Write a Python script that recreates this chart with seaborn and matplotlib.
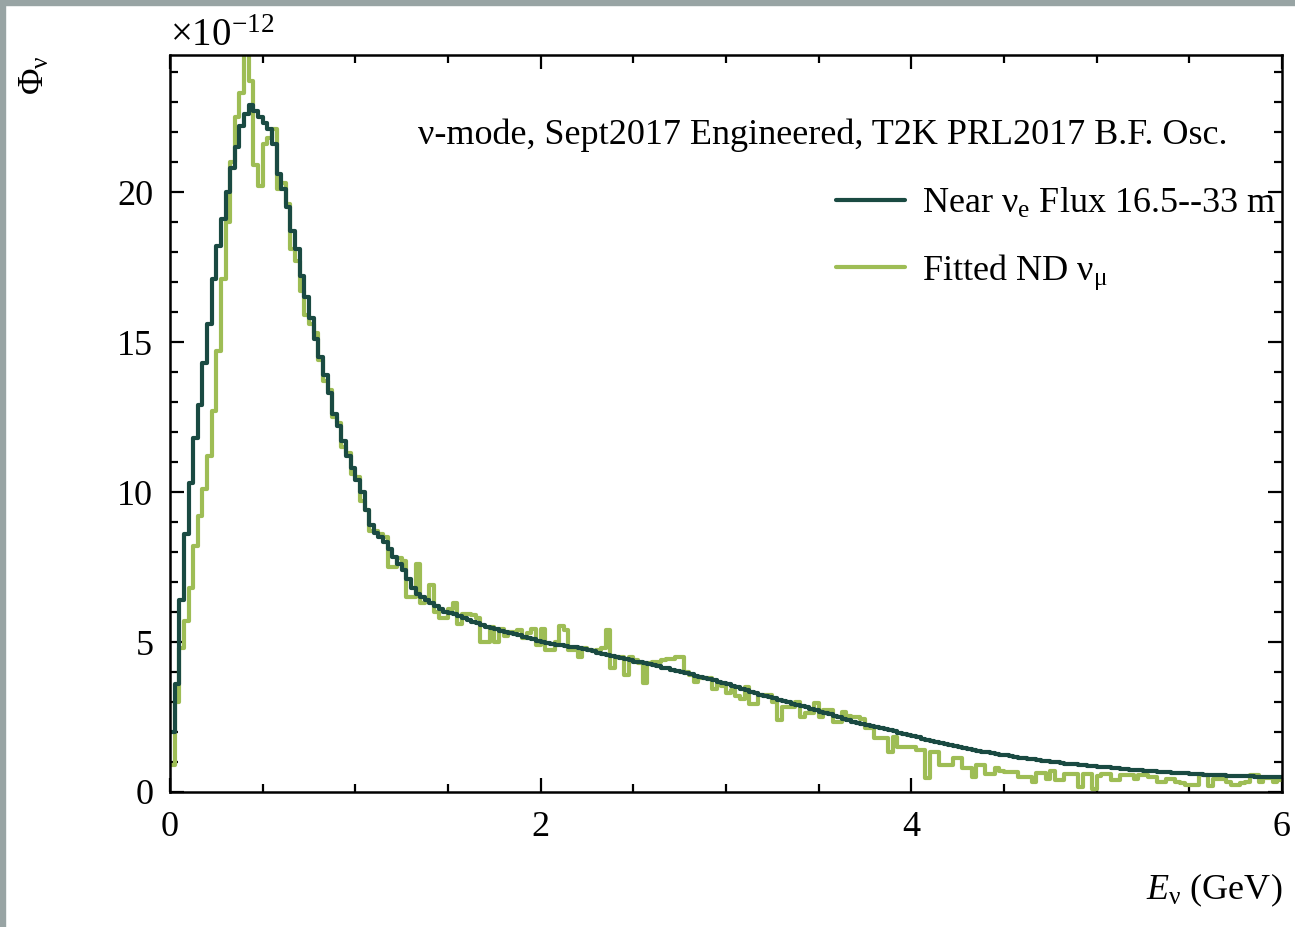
import numpy as np
import pandas as pd
import matplotlib
matplotlib.use("Agg")
import matplotlib.pyplot as plt
from matplotlib.patches import Rectangle
import seaborn as sns

# ---------------- data ----------------
e_min, e_max = 0.0, 6.0

near_nue = [
    2.0, 3.6, 6.4, 8.6, 10.3, 11.8, 12.9, 14.3, 15.6, 17.1,
    18.2, 19.1, 20.0, 20.8, 21.5, 22.2, 22.6, 22.9, 22.7, 22.5,
    22.3, 22.1, 21.6, 20.6, 20.1, 19.5, 18.7, 18.1, 17.2, 16.5,
    15.8, 15.1, 14.5, 13.9, 13.3, 12.6, 12.2, 11.7, 11.2, 10.8,
    10.4, 10.0, 9.4, 8.9, 8.65, 8.5, 8.35, 8.1, 7.85, 7.6,
    7.4, 7.1, 6.8, 6.6, 6.5, 6.4, 6.3, 6.2, 6.1, 6.0,
    5.97, 5.92, 5.86, 5.80, 5.74, 5.68, 5.62, 5.57, 5.50, 5.46,
    5.42, 5.38, 5.34, 5.30, 5.26, 5.22, 5.18, 5.14, 5.10, 5.05,
    5.01, 4.97, 4.93, 4.91, 4.90, 4.87, 4.85, 4.82, 4.80, 4.76,
    4.73, 4.69, 4.65, 4.61, 4.57, 4.53, 4.50, 4.46, 4.42, 4.39,
    4.35, 4.32, 4.29, 4.26, 4.22, 4.19, 4.15, 4.12, 4.08, 4.04,
    4.00, 3.96, 3.92, 3.88, 3.84, 3.80, 3.76, 3.72, 3.68, 3.64,
    3.59, 3.54, 3.49, 3.44, 3.39, 3.34, 3.29, 3.25, 3.21, 3.17,
    3.13, 3.08, 3.04, 2.99, 2.95, 2.91, 2.86, 2.82, 2.77, 2.73,
    2.68, 2.63, 2.59, 2.54, 2.49, 2.44, 2.39, 2.35, 2.31, 2.27,
    2.23, 2.19, 2.16, 2.13, 2.10, 2.06, 2.02, 1.98, 1.94, 1.90,
    1.86, 1.82, 1.78, 1.74, 1.70, 1.67, 1.63, 1.60, 1.56, 1.53,
    1.50, 1.47, 1.44, 1.41, 1.38, 1.35, 1.32, 1.30, 1.27, 1.25,
    1.22, 1.20, 1.17, 1.15, 1.13, 1.11, 1.09, 1.07, 1.05, 1.03,
    1.01, 0.99, 0.97, 0.95, 0.94, 0.92, 0.91, 0.89, 0.88, 0.86,
    0.85, 0.83, 0.82, 0.80, 0.79, 0.78, 0.76, 0.75, 0.74, 0.73,
    0.71, 0.70, 0.69, 0.68, 0.67, 0.66, 0.65, 0.64, 0.63, 0.62,
    0.61, 0.60, 0.59, 0.58, 0.58, 0.57, 0.56, 0.56, 0.55, 0.54,
    0.54, 0.53, 0.52, 0.52, 0.51, 0.51, 0.50, 0.50, 0.49, 0.49,
]

fitted_numu = [
    0.9, 3.0, 4.8, 5.7, 6.8, 8.2, 9.2, 10.1, 11.2, 12.7,
    14.7, 17.1, 19.0, 21.0, 22.5, 23.3, 24.8, 23.7, 20.9, 20.2,
    21.6, 21.8, 22.1, 20.1, 20.3, 19.6, 18.1, 17.7, 16.7, 15.9,
    15.6, 15.3, 14.4, 13.7, 13.4, 12.5, 12.3, 11.5, 11.3, 10.6,
    10.5, 9.7, 9.4, 8.7, 8.7, 8.6, 8.5, 7.5, 7.5, 7.8,
    7.7, 6.5, 6.5, 7.6, 6.3, 6.4, 6.9, 6.0, 5.8, 5.8,
    6.1, 6.3, 5.6, 5.95, 5.95, 5.9, 5.8, 5.0, 5.0, 5.5,
    5.0, 5.45, 5.2, 5.35, 5.35, 5.4, 5.15, 5.3, 5.45, 4.9,
    5.45, 4.75, 4.75, 5.0, 5.55, 5.4, 4.75, 4.75, 4.5, 4.8,
    4.75, 4.7, 4.75, 4.8, 5.4, 4.15, 4.5, 4.5, 3.9, 4.5,
    4.4, 4.3, 3.65, 4.3, 4.35, 4.35, 4.4, 4.45, 4.45, 4.5,
    4.5, 4.0, 3.9, 3.67, 3.8, 3.8, 3.8, 3.45, 3.6, 3.55,
    3.3, 3.4, 3.2, 3.1, 3.5, 2.95, 2.95, 3.25, 3.25, 3.25,
    3.0, 2.4, 2.83, 2.83, 2.85, 3.0, 2.5, 2.63, 2.63, 2.97,
    2.5, 2.75, 2.75, 2.35, 2.35, 2.67, 2.55, 2.5, 2.5, 2.45,
    2.15, 2.13, 1.8, 1.8, 1.8, 1.33, 1.83, 1.5, 1.5, 1.5,
    1.5, 1.4, 1.4, 0.47, 1.33, 1.33, 0.9, 0.9, 0.9, 1.13,
    1.13, 0.8, 0.8, 0.5, 0.9, 0.9, 0.6, 0.6, 0.8, 0.7,
    0.67, 0.67, 0.67, 0.5, 0.5, 0.5, 0.33, 0.63, 0.63, 0.45,
    0.7, 0.4, 0.4, 0.6, 0.6, 0.6, 0.17, 0.6, 0.6, 0.1,
    0.55, 0.6, 0.6, 0.4, 0.4, 0.57, 0.57, 0.57, 0.45, 0.57,
    0.57, 0.5, 0.5, 0.35, 0.35, 0.45, 0.45, 0.35, 0.3, 0.25,
    0.23, 0.23, 0.57, 0.57, 0.2, 0.45, 0.45, 0.45, 0.35, 0.25,
    0.25, 0.3, 0.35, 0.57, 0.57, 0.35, 0.47, 0.47, 0.35, 0.4,
]

series_labels = [r"Near ν$_{\mathrm{e}}$ Flux 16.5--33 m", r"Fitted ND ν$_{\mathrm{μ}}$"]
x_ticks = [0, 2, 4, 6]
y_ticks = [0, 5, 10, 15, 20]
title_text = "ν-mode, Sept2017 Engineered, T2K PRL2017 B.F. Osc."

# ---------------- table ----------------
n_bins = len(near_nue)
edges = np.linspace(e_min, e_max, n_bins + 1)
centers = 0.5 * (edges[:-1] + edges[1:])
df = pd.concat([
    pd.DataFrame({"E": centers, "flux": near_nue, "series": series_labels[0]}),
    pd.DataFrame({"E": centers, "flux": fitted_numu, "series": series_labels[1]}),
], ignore_index=True)

# ---------------- style ----------------
sns.set_theme(style="ticks")
plt.rcParams["font.family"] = ["Liberation Serif", "DejaVu Serif"]
plt.rcParams["mathtext.fontset"] = "custom"
plt.rcParams["mathtext.rm"] = "Liberation Serif"
plt.rcParams["mathtext.it"] = "Liberation Serif:italic"
plt.rcParams["mathtext.bf"] = "Liberation Serif:bold"
plt.rcParams["text.color"] = "black"
plt.rcParams["axes.labelcolor"] = "black"

dark = "#1a4a42"
light = "#9ebd55"
FS = 26

fig = plt.figure(figsize=(12.95, 9.27), dpi=100)
ax = fig.add_axes([170 / 1295, 135 / 927, 1112 / 1295, 737 / 927])

palette = {series_labels[0]: dark, series_labels[1]: light}
sns.histplot(data=df, x="E", weights="flux", hue="series", bins=n_bins,
             binrange=(e_min, e_max), element="step", fill=False,
             palette=palette, linewidth=3.0, legend=False, ax=ax,
             hue_order=series_labels)

ax.set_xlim(e_min, e_max)
ax.set_ylim(0, 24.57)
ax.set_xticks(x_ticks)
ax.set_xticklabels([str(t) for t in x_ticks])
ax.set_yticks(y_ticks)
ax.set_yticklabels([str(t) for t in y_ticks])
ax.xaxis.set_minor_locator(matplotlib.ticker.MultipleLocator(0.5))
ax.yaxis.set_minor_locator(matplotlib.ticker.MultipleLocator(1))
ax.tick_params(which="both", direction="in", top=True, right=True,
               width=1.6, color="black", labelsize=FS, labelcolor="black")
ax.tick_params(which="major", length=10)
ax.tick_params(which="minor", length=5.5)
ax.tick_params(axis="x", which="major", pad=14)
ax.tick_params(axis="y", which="major", pad=12)
for s in ax.spines.values():
    s.set_linewidth(1.8)
    s.set_color("black")
ax.grid(False)

ax.set_xlabel(r"$E_{\mathrm{ν}}$ (GeV)", fontsize=FS, loc="right")
ax.xaxis.set_label_coords(1.0, -0.108)
ax.set_ylabel(r"Φ$_{\mathrm{ν}}$", fontsize=FS, loc="top")
ax.yaxis.set_label_coords(-0.106, 1.0)

ax.text(0.0, 1.0, "×10$^{\\mathrm{−12}}$", transform=ax.transAxes,
        ha="left", va="bottom", fontsize=FS + 2)
ax.text(0.223, 0.891, title_text, transform=ax.transAxes,
        ha="left", va="center", fontsize=FS)

handles = [matplotlib.lines.Line2D([], [], color=dark, lw=3.0),
           matplotlib.lines.Line2D([], [], color=light, lw=3.0)]
leg = ax.legend(handles, series_labels, loc="upper left",
                bbox_to_anchor=((836 - 170) / 1112, (792 - 187) / 737),
                frameon=False, fontsize=FS, handlelength=1.92,
                handletextpad=0.45, labelspacing=0.86, borderaxespad=0,
                borderpad=0)

# grey frame of the original canvas
fig.patches.append(Rectangle((0, 1 - 5 / 927), 1, 5 / 927, transform=fig.transFigure,
                             color="#98a4a4", zorder=-1))
fig.patches.append(Rectangle((0, 0), 5 / 1295, 1, transform=fig.transFigure,
                             color="#98a4a4", zorder=-1))

fig.savefig("out.png", dpi=100, facecolor="white")
